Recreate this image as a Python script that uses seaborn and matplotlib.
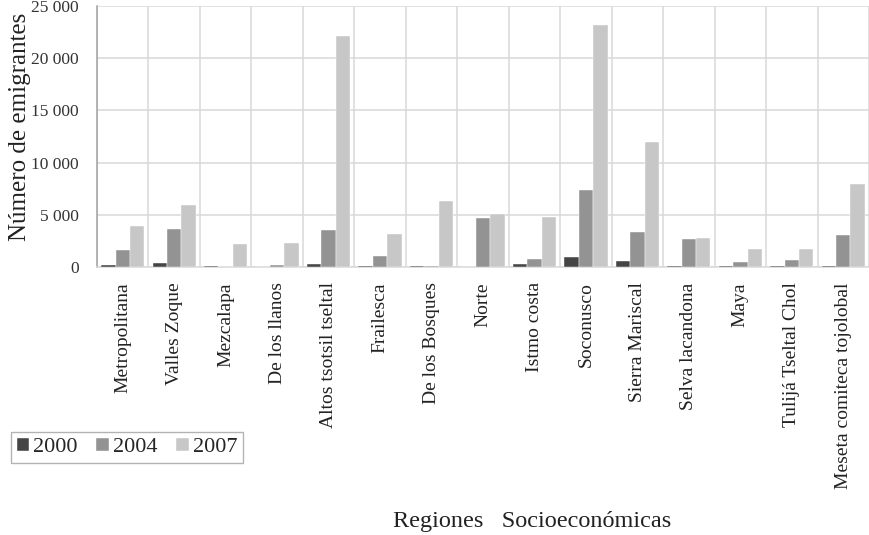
import matplotlib
matplotlib.use('Agg')
import matplotlib.pyplot as plt
import seaborn as sns
import numpy as np
import pandas as pd

regions = [
    "Metropolitana", "Valles Zoque", "Mezcalapa", "De los llanos",
    "Altos tsotsil tseltal", "Frailesca", "De los Bosques", "Norte",
    "Istmo costa", "Soconusco", "Sierra Mariscal", "Selva lacandona",
    "Maya", "Tulijá Tseltal Chol", "Meseta comiteca tojolobal",
]
years = ["2000", "2004", "2007"]
emig_2000 = [150, 380, 140, 0, 250, 130, 130, 0, 250, 950, 540, 130, 130, 130, 130]
emig_2004 = [1630, 3640, 0, 220, 3500, 1050, 130, 4660, 800, 7380, 3350, 2680, 510, 670, 3100]
emig_2007 = [3900, 5900, 2170, 2300, 22100, 3200, 6300, 5100, 4800, 23200, 11940, 2800, 1760, 1760, 7920]
yticks = [0, 5000, 10000, 15000, 20000, 25000]
ytick_labels = ["0", "5 000", "10 000", "15 000", "20 000", "25 000"]

colors = ["#454545", "#939393", "#c7c7c7"]

df = pd.DataFrame({
    "region": regions * 3,
    "year": [years[0]] * 15 + [years[1]] * 15 + [years[2]] * 15,
    "value": emig_2000 + emig_2004 + emig_2007,
})

sns.set_theme(style="white")
plt.rcParams['font.family'] = ['Liberation Serif', 'DejaVu Serif']

fig = plt.figure(figsize=(8.69, 5.35), dpi=100)
ax = fig.add_axes([97 / 869, 1 - 267 / 535, 1 - 97 / 869, 261 / 535])

sns.barplot(data=df, x="region", y="value", hue="year", palette=colors,
            width=0.84, gap=0, edgecolor="white", linewidth=0.3,
            saturation=1, ax=ax, zorder=3)

ax.set_xlim(-0.5, len(regions) - 0.5)
ax.set_ylim(0, 25000)
ax.set_yticks(yticks)
ax.set_yticklabels(ytick_labels, fontsize=12.5, color="#333333")
ax.set_xticks(range(len(regions)))
ax.set_xticklabels(regions, rotation=90, fontsize=14, color="#222222",
                   ha="center", va="top")
ax.set_xticks(np.arange(len(regions) + 1) - 0.5, minor=True)
ax.tick_params(axis="both", which="both", length=0)
ax.tick_params(axis="x", pad=11)
ax.tick_params(axis="y", pad=13)

ax.grid(axis="y", which="major", color="#d9d9d9", linewidth=1.1, zorder=0)
ax.grid(axis="x", which="minor", color="#d9d9d9", linewidth=1.1, zorder=0)
ax.set_axisbelow(True)

for side in ["top", "right"]:
    ax.spines[side].set_visible(False)
ax.spines["left"].set_color("#a0a0a0")
ax.spines["left"].set_linewidth(1.1)
ax.spines["bottom"].set_color("#d9d9d9")
ax.spines["bottom"].set_linewidth(1.1)

ax.set_xlabel("")
ax.set_ylabel("Número de emigrantes", fontsize=18, color="#222222")
ax.yaxis.set_label_coords(-0.085, 0.535)

handles, labels = ax.get_legend_handles_labels()
ax.get_legend().remove()
fig.legend(handles, labels, loc="lower left",
           bbox_to_anchor=(11 / 869, 1 - 463 / 535, 232 / 869, 34 / 535),
           mode="expand", ncol=3, fontsize=16, frameon=True, fancybox=False,
           edgecolor="#a0a0a0", handlelength=0.55, handleheight=0.55,
           handletextpad=0.2, columnspacing=0.8, borderaxespad=0,
           borderpad=0.25)

fig.text(532 / 869, 1 - 522 / 535, "Regiones   Socioeconómicas", fontsize=17.5,
         color="#222222", ha="center", va="center")

fig.savefig("out.png", dpi=100)
